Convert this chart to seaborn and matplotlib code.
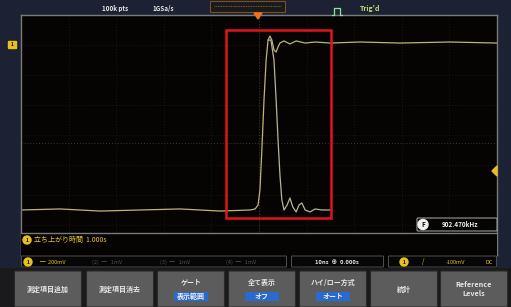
#^ Imports =========================================================================================>
import numpy as np
import pandas as pd
import matplotlib.pyplot as plt
from matplotlib.patches import Rectangle, FancyBboxPatch, Circle, Polygon
import seaborn as sns

sns.set_theme(style='dark')
plt.rcParams['font.family'] = ['Noto Sans CJK JP', 'DejaVu Sans']

#^ Data ============================================================================================>
# time in ns (10 ns/div), voltage in V (200 mV/div)
rise_t = [-50, -41.8, -33.4, -25, -16.6, -8.2, -1.9, -0.8, -0.2, 0.2, 0.6, 1.05, 1.5, 1.9, 2.3, 2.7,
          3.15, 3.6, 4.0, 4.4, 5.25, 6.5, 7.8, 9.7, 11.8, 14.9, 21.2, 29.6, 40.1, 50]
rise_v = [-0.5, -0.493, -0.507, -0.5, -0.493, -0.507, -0.5, -0.493, -0.467, -0.367, -0.1, 0.233, 0.5,
          0.633, 0.66, 0.633, 0.567, 0.553, 0.587, 0.613, 0.627, 0.607, 0.627, 0.613, 0.62, 0.613,
          0.62, 0.613, 0.62, 0.613]
fall_t = [1.9, 2.5, 3.15, 3.6, 4.0, 4.4, 4.8, 5.25, 5.9, 6.5, 7.1, 7.8, 8.4, 9.0, 9.7, 10.7, 11.8, 13.2, 14.9]
fall_v = [0.633, 0.633, 0.5, 0.233, -0.033, -0.267, -0.433, -0.5, -0.467, -0.42, -0.48, -0.513,
          -0.467, -0.453, -0.5, -0.513, -0.493, -0.5, -0.5]

gate_t = [-6.9, 15.1]
gate_v = [0.7, -0.553]

buttons = [('測定項目追加', None), ('測定項目消去', None), ('ゲート', '表示範囲'), ('全て表示', 'オフ'),
           ('ハイ/ロー方式', 'オート'), ('統計', None), ('Reference\nLevels', None)]
button_x = [14, 86, 157, 228, 299, 370, 440]

meas_label = '立ち上がり時間  1.000s'
freq_label = '902.470kHz'

df_rise = pd.DataFrame({'t': rise_t, 'v': rise_v})
df_fall = pd.DataFrame({'t': fall_t, 'v': fall_v})

#^ Figure ==========================================================================================>
W, H = 511, 307
fig = plt.figure(figsize=(W / 100, H / 100), dpi=100, facecolor='#1c2233')

def frac(x0, y0, w, h):
    return [x0 / W, 1 - (y0 + h) / H, w / W, h / H]

ax = fig.add_axes(frac(21, 15, 476, 240), zorder=1)
ax.set_facecolor('#050403')
ax.set_xlim(-50, 50)
ax.set_ylim(-0.8, 0.8)
ax.set_xticks(np.arange(-50, 51, 10))
ax.set_yticks(np.arange(-0.8, 0.81, 0.2))
ax.grid(True, color='#262624', linestyle=(0, (1, 3)), linewidth=0.5)
ax.axvline(0, color='#3a3a38', linestyle=(0, (1, 2)), linewidth=0.7)
ax.axhline(-0.053, color='#3a3a38', linestyle=(0, (1, 2)), linewidth=0.7)
ax.tick_params(length=0, labelbottom=False, labelleft=False)
for s in ax.spines.values():
    s.set_color('#7a7a7a')
    s.set_linewidth(1.0)

sns.lineplot(data=df_rise, x='t', y='v', ax=ax, color='#bdb676', linewidth=0.9, sort=False)
sns.lineplot(data=df_fall, x='t', y='v', ax=ax, color='#b8b49a', linewidth=0.9, sort=False)
ax.add_patch(Rectangle((gate_t[0], gate_v[1]), gate_t[1] - gate_t[0], gate_v[0] - gate_v[1],
                       fill=False, edgecolor='#e0141a', linewidth=1.8, zorder=5))
ax.set_xlabel('')
ax.set_ylabel('')

#^ Overlay UI ======================================================================================>
ui = fig.add_axes([0, 0, 1, 1], zorder=2)
ui.set_xlim(0, W)
ui.set_ylim(H, 0)
ui.axis('off')
ui.patch.set_alpha(0)

# top bar
ui.text(115, 8, '100k pts', color='#e8e8e8', fontsize=4.5, ha='center', va='center', weight='bold')
ui.text(163, 8, '1GSa/s', color='#e8e8e8', fontsize=4.5, ha='center', va='center', weight='bold')
ui.add_patch(Rectangle((210, 1), 75, 11, facecolor='#1a1a1a', edgecolor='#7a5020', linewidth=0.8))
ui.plot([214, 281], [6, 6], color='#a07040', linewidth=0.6, linestyle=(0, (1, 1)))
ui.add_patch(Polygon([[254, 13], [262, 13], [258, 19]], color='#f07020'))
ui.plot([332, 334, 334, 340, 340, 342], [15, 15, 8, 8, 15, 15], color='#8fe0a0', linewidth=0.9)
ui.text(360, 8, "Trig'd", color='#c8e070', fontsize=5, ha='left', va='center', weight='bold')

# channel markers
ui.add_patch(FancyBboxPatch((9, 42), 7, 6, boxstyle='round,pad=0.5', color='#e8c020'))
ui.text(12.5, 45, '1', color='black', fontsize=3.5, ha='center', va='center', weight='bold')
ui.add_patch(Polygon([[497, 166], [497, 176], [492, 171]], color='#e8c020'))

# frequency readout
ui.add_patch(FancyBboxPatch((418, 219), 78, 11, boxstyle='round,pad=1', facecolor='#050505',
                            edgecolor='#9a9a9a', linewidth=0.8))
ui.add_patch(Circle((423, 224.5), 5, color='#f0f0f0'))
ui.text(423, 224.5, 'F', color='black', fontsize=4.5, ha='center', va='center', weight='bold')
ui.text(460, 224.5, freq_label, color='#f0f0f0', fontsize=4.5, ha='center', va='center', weight='bold')

# measurement bar
ui.add_patch(Rectangle((21, 233), 476, 22, facecolor='#050403', edgecolor='none'))
ui.plot([21, 497], [233, 233], color='#7a7a7a', linewidth=1.0)
ui.add_patch(Circle((27, 240), 4, color='#e8c020'))
ui.text(27, 240, '1', color='black', fontsize=3.5, ha='center', va='center', weight='bold')
ui.text(34, 240, meas_label, color='#e8c830', fontsize=5, ha='left', va='center')

# status bar
ui.add_patch(Rectangle((21, 255), 476, 13, facecolor='#050505', edgecolor='none'))
for x0, x1 in [(21, 287), (291, 384), (388, 497)]:
    ui.add_patch(FancyBboxPatch((x0 + 1, 256.5), x1 - x0 - 2, 10, boxstyle='round,pad=0.5',
                                facecolor='#060606', edgecolor='#5a5a5a', linewidth=0.6))
ui.add_patch(Circle((28, 262), 4, color='#e8c020'))
ui.text(28, 262, '1', color='black', fontsize=3.5, ha='center', va='center', weight='bold')
ui.text(40, 262, '━  200mV', color='#e8c020', fontsize=4, ha='left', va='center')
ui.text(92, 262, '(2)  ━   1mV', color='#505050', fontsize=4, ha='left', va='center')
ui.text(160, 262, '(3)  ━   1mV', color='#505050', fontsize=4, ha='left', va='center')
ui.text(226, 262, '(4)  ━   1mV', color='#505050', fontsize=4, ha='left', va='center')
ui.text(337, 262, '10ns  ⊕  0.000s', color='#e8e8e8', fontsize=4.2, ha='center', va='center', weight='bold')
ui.add_patch(Circle((404, 262), 4, color='#e8c020'))
ui.text(404, 262, '1', color='black', fontsize=3.5, ha='center', va='center', weight='bold')
ui.text(423, 262, '/', color='#e8c020', fontsize=4.5, ha='center', va='center')
ui.text(455, 262, '-100mV', color='#e8c020', fontsize=4, ha='center', va='center')
ui.text(489, 262, 'DC', color='#e8c020', fontsize=4, ha='center', va='center')

# soft buttons
ui.add_patch(Rectangle((0, 268), W, 39, facecolor='#1a1a1c', edgecolor='none'))
for (top, sub), bx in zip(buttons, button_x):
    ui.add_patch(FancyBboxPatch((bx + 1.5, 272), 65, 34, boxstyle='round,pad=1',
                                facecolor='#5c5c5c', edgecolor='#2a2a2a', linewidth=0.8))
    cx = bx + 34
    if sub is None:
        ui.text(cx, 289, top, color='#e6e6e6', fontsize=5.2 if '\n' in top else 5,
                ha='center', va='center', linespacing=1.3, weight='bold')
    else:
        ui.text(cx, 282, top, color='#e6e6e6', fontsize=5, ha='center', va='center', weight='bold')
        ui.add_patch(Rectangle((cx - 17, 292), 34, 9, facecolor='#2a6ad0', edgecolor='none'))
        ui.text(cx, 296.5, sub, color='#f0f0f0', fontsize=5, ha='center', va='center', weight='bold')

fig.savefig('out.png', dpi=100, facecolor=fig.get_facecolor())
